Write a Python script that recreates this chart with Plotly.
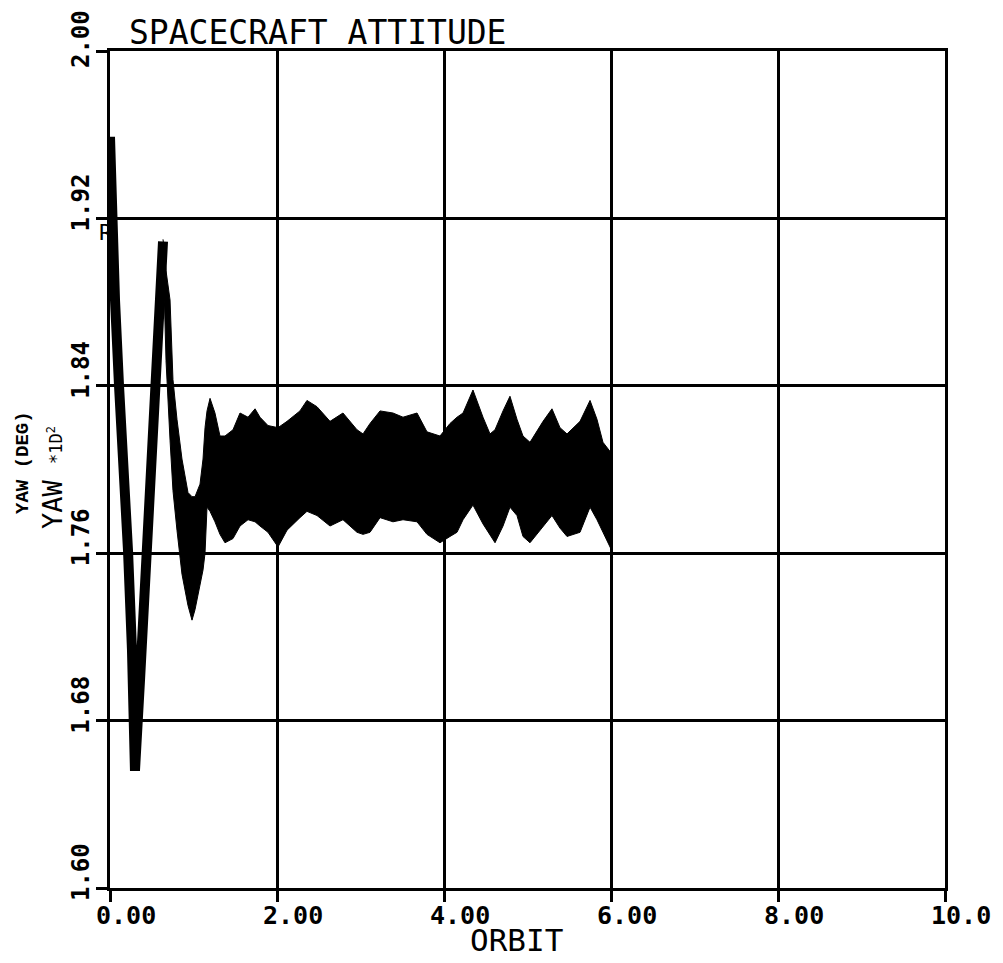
import plotly.graph_objects as go

# ---- data ----
early_orbit = [0.000, 0.024, 0.060, 0.108, 0.168, 0.216, 0.263, 0.299, 0.359, 0.407, 0.443, 0.491, 0.539, 0.587, 0.635]
early_yaw = [1.959, 1.921, 1.881, 1.840, 1.800, 1.761, 1.714, 1.656, 1.699, 1.733, 1.761, 1.795, 1.840, 1.881, 1.909]

band_orbit = [0.635, 0.671, 0.719, 0.754, 0.802, 0.862, 0.934, 0.982, 1.018, 1.078, 1.114, 1.138, 1.162, 1.198,
              1.257, 1.317, 1.377, 1.473, 1.557, 1.653, 1.737, 1.796, 1.892, 2.012, 2.120, 2.275, 2.359, 2.479,
              2.635, 2.790, 2.958, 3.030, 3.114, 3.234, 3.389, 3.509, 3.677, 3.796, 3.952, 4.072, 4.156, 4.228,
              4.347, 4.467, 4.551, 4.611, 4.707, 4.790, 4.874, 4.946, 5.030, 5.186, 5.293, 5.389, 5.473, 5.629,
              5.749, 5.832, 5.904, 6.000, 6.020]
band_upper = [1.910, 1.895, 1.881, 1.843, 1.824, 1.805, 1.789, 1.787, 1.787, 1.793, 1.805, 1.820, 1.828, 1.834,
              1.827, 1.816, 1.816, 1.819, 1.827, 1.825, 1.829, 1.825, 1.821, 1.820, 1.823, 1.828, 1.833, 1.830,
              1.823, 1.827, 1.819, 1.817, 1.822, 1.828, 1.827, 1.825, 1.827, 1.818, 1.816, 1.822, 1.825, 1.827,
              1.838, 1.825, 1.817, 1.819, 1.828, 1.835, 1.824, 1.816, 1.813, 1.823, 1.829, 1.820, 1.817, 1.823,
              1.833, 1.824, 1.813, 1.808, 1.807]
band_lower = [1.905, 1.852, 1.814, 1.790, 1.771, 1.750, 1.735, 1.728, 1.733, 1.745, 1.752, 1.760, 1.782, 1.780,
              1.775, 1.769, 1.765, 1.767, 1.773, 1.776, 1.775, 1.773, 1.770, 1.763, 1.771, 1.777, 1.780, 1.778,
              1.773, 1.776, 1.770, 1.769, 1.770, 1.777, 1.775, 1.776, 1.775, 1.769, 1.765, 1.768, 1.770, 1.776,
              1.783, 1.774, 1.769, 1.765, 1.773, 1.782, 1.778, 1.768, 1.765, 1.773, 1.778, 1.772, 1.768, 1.770,
              1.782, 1.776, 1.770, 1.762, 1.758]

x_ticks = [0, 2, 4, 6, 8, 10]
x_tick_labels = ["0.00", "2.00", "4.00", "6.00", "8.00", "10.0"]
y_ticks = [1.60, 1.68, 1.76, 1.84, 1.92, 2.00]
y_tick_labels = ["1.60", "1.68", "1.76", "1.84", "1.92", "2.00"]

title_text = "SPACECRAFT ATTITUDE"
x_title = "ORBIT"
y_title_small = "YAW (DEG)"
y_title_big = "YAW <span style='font-size:17px'>*1D<sup>2</sup></span>"

MONO = "DejaVu Sans Mono"

fig = go.Figure()
fig.add_trace(go.Scatter(x=band_orbit, y=band_lower, mode="lines",
                         line=dict(color="black", width=1), showlegend=False, hoverinfo="skip"))
fig.add_trace(go.Scatter(x=band_orbit, y=band_upper, mode="lines", fill="tonexty", fillcolor="black",
                         line=dict(color="black", width=1), showlegend=False, hoverinfo="skip"))
fig.add_trace(go.Scatter(x=early_orbit, y=early_yaw, mode="lines",
                         line=dict(color="black", width=10), showlegend=False, hoverinfo="skip"))

ann = []
for v, t in zip(x_ticks, x_tick_labels):
    ann.append(dict(x=v, xref="x", y=-0.0323, yref="paper", text="<b>" + t + "</b>", showarrow=False,
                    xanchor="center", yanchor="middle", xshift=16,
                    font=dict(family=MONO, size=25, color="black")))
for v, t in zip(y_ticks, y_tick_labels):
    ann.append(dict(x=-0.0347, xref="paper", y=v, yref="y", text="<b>" + t + "</b>", showarrow=False,
                    xanchor="center", yanchor="middle", yshift=(12 if v >= 2.0 else 16), textangle=-90,
                    font=dict(family=MONO, size=24, color="black")))
ann.append(dict(x=0.020, xref="paper", y=1.0227, yref="paper", text=title_text, showarrow=False,
                xanchor="left", yanchor="middle", font=dict(family=MONO, size=33, color="black")))
ann.append(dict(x=0.4874, xref="paper", y=-0.0621, yref="paper", text=x_title, showarrow=False,
                xanchor="center", yanchor="middle", font=dict(family=MONO, size=31, color="black")))
ann.append(dict(x=-0.1042, xref="paper", y=0.509, yref="paper", text="<b>" + y_title_small + "</b>",
                showarrow=False, xanchor="center", yanchor="middle", textangle=-90,
                font=dict(family="Liberation Mono", size=19, color="black")))
ann.append(dict(x=-0.068, xref="paper", y=0.49, yref="paper", text=y_title_big,
                showarrow=False, xanchor="center", yanchor="middle", textangle=-90,
                font=dict(family=MONO, size=27, color="black")))
ann.append(dict(x=-0.005, xref="paper", y=0.783, yref="paper", text="R",
                showarrow=False, xanchor="center", yanchor="middle",
                font=dict(family=MONO, size=22, color="black")))

axis_common = dict(showgrid=True, gridcolor="black", gridwidth=3, zeroline=False,
                   showline=True, linecolor="black", linewidth=3, mirror=True,
                   ticks="outside", ticklen=11, tickwidth=3, tickcolor="black",
                   showticklabels=False)

fig.update_layout(
    width=995, height=955,
    margin=dict(l=102, r=58, t=43, b=75),
    paper_bgcolor="white", plot_bgcolor="white",
    xaxis=dict(range=[0, 10], tickvals=x_ticks, **axis_common),
    yaxis=dict(range=[1.60, 2.00], tickvals=y_ticks, **axis_common),
    annotations=ann,
    showlegend=False,
)

fig.write_html("out.html")
